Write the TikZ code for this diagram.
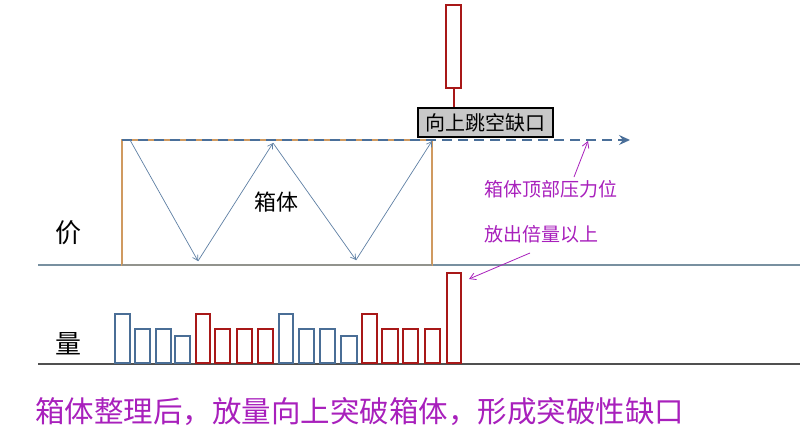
\documentclass[tikz,border=0pt]{standalone}
\usepackage{fontspec}
\setmainfont{Noto Sans CJK SC}
\usetikzlibrary{arrows.meta}
\definecolor{boxtan}{HTML}{D09A60}
\definecolor{dashblue}{HTML}{4A6F99}
\definecolor{zigblue}{HTML}{5E7FA3}
\definecolor{volblue}{HTML}{4A6E96}
\definecolor{volred}{HTML}{A81818}
\definecolor{magenta2}{HTML}{A820BC}
\definecolor{axisblue}{HTML}{7890A0}
\definecolor{axisgray}{HTML}{505050}
\definecolor{labelgray}{HTML}{C8C8C8}
\tikzset{
  zig/.style={draw=zigblue, line width=0.7pt, -{Straight Barb[length=5pt,width=6pt]}},
  pointer/.style={draw=magenta2, line width=0.8pt, -{Straight Barb[length=6pt,width=7pt]}},
  volb/.style={draw=volblue, line width=2pt},
  volr/.style={draw=volred, line width=2pt},
  mtext/.style={text=magenta2, inner sep=0pt, font=\fontsize{19pt}{22pt}\selectfont},
}
\begin{document}
\begin{tikzpicture}[x=1pt,y=-1pt]
\useasboundingbox (0,0) rectangle (800,440);
% axis lines
\draw[axisblue, line width=1.5pt] (38,265) -- (800,265);
\draw[axisgray, line width=1.5pt] (38,364) -- (800,364);
% box
\draw[boxtan, line width=2.3pt] (122,265) -- (122,140) -- (432,140) -- (432,265) -- cycle;
\draw[axisblue!70!boxtan, line width=1.5pt] (122,265) -- (432,265);
% dashed top resistance line
\coordinate (dashstart) at (122,140);
\coordinate (dashend) at (630,140);
\draw[dashblue, line width=2.2pt, dash pattern=on 10pt off 6pt, -{Stealth[length=11pt,width=10pt,inset=4pt]}] (dashstart) -- (dashend);
% zigzag
\coordinate (z0) at (130,140);
\coordinate (z1) at (198,261);
\coordinate (z2) at (273,143);
\coordinate (z3) at (356,260);
\coordinate (z4) at (432,141);
\draw[zig] (z0) -- (z1);
\draw[zig] (z1) -- (z2);
\draw[zig] (z2) -- (z3);
\draw[zig] (z3) -- (z4);
\node[inner sep=0pt, font=\fontsize{22pt}{24pt}\selectfont] (box) at (276,202) {箱体};
% candle
\draw[volred, line width=2pt] (446,5) rectangle (461,88);
\coordinate (wicktop) at (453.5,88);
% gap label
\node[draw=black, line width=2pt, fill=labelgray, minimum width=135pt, minimum height=29pt, inner sep=0pt, font=\fontsize{20pt}{22pt}\selectfont] (gap) at (485.5,122.5) {向上跳空缺口};
\draw[volred, line width=2pt] (wicktop) -- (gap.north -| wicktop);
% axis labels
\node[inner sep=0pt, font=\fontsize{26pt}{28pt}\selectfont] (price) at (68,233) {价};
\node[inner sep=0pt, font=\fontsize{26pt}{28pt}\selectfont] (vol) at (68,344) {量};
% magenta texts
\node[mtext, anchor=west] (t1) at (484,189) {箱体顶部压力位};
\node[mtext, anchor=west] (t2) at (484,234) {放出倍量以上};
\coordinate (p1) at (588,141);
\coordinate (p2) at (469,279);
\draw[pointer] (574,177) -- (p1);
\draw[pointer] (530,253) -- (p2);
% volume bars
\foreach \a/\b/\t/\s in {115/130/314/volb,135/150/329/volb,156/171/329/volb,175/190/336/volb,
  196/210/314/volr,215/230/329/volr,237/252/329/volr,258/273/329/volr,
  279/293/314/volb,299/314/329/volb,320/335/329/volb,341/357/336/volb,
  362/377/314/volr,382/398/329/volr,403/418/329/volr,425/440/329/volr,447/461/273/volr}
  \draw[\s] (\a,363) rectangle (\b,\t);
% bottom caption
\node[text=magenta2, inner sep=0pt, anchor=west, font=\fontsize{29.5pt}{32pt}\selectfont] (caption) at (35,412) {箱体整理后，放量向上突破箱体，形成突破性缺口};
\end{tikzpicture}
\end{document}
